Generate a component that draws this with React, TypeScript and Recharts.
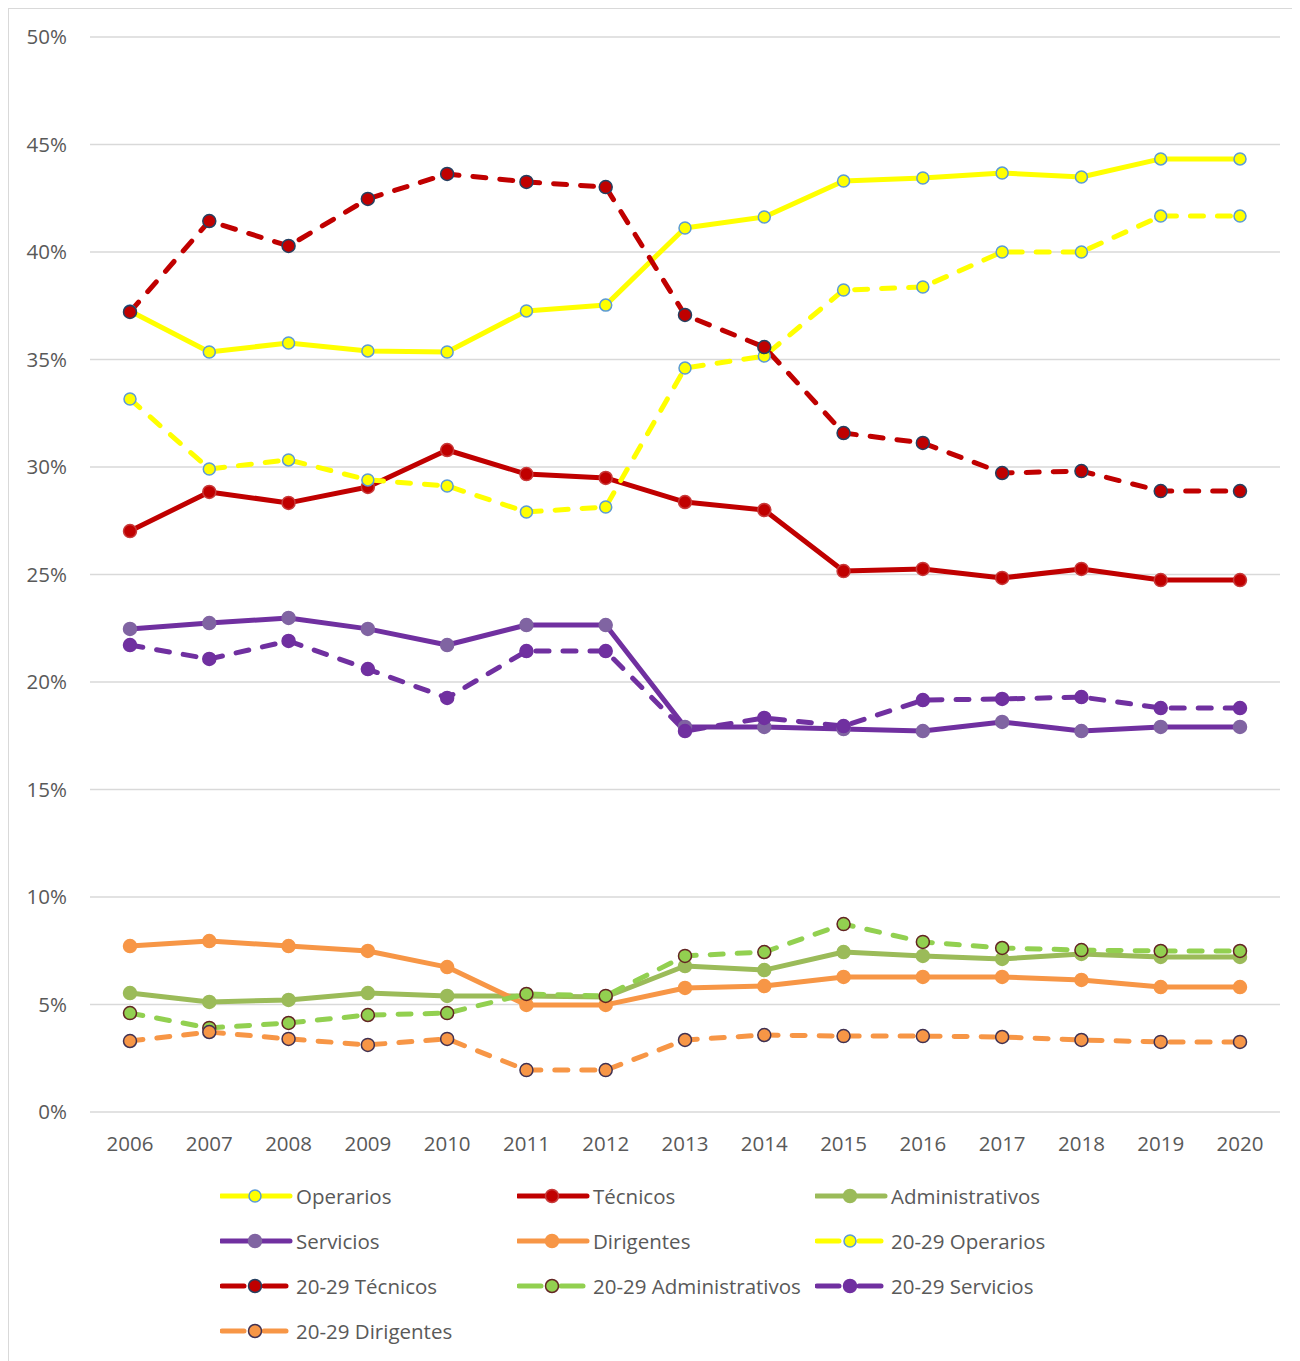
import React from 'react';
import { LineChart, Line, XAxis, YAxis, CartesianGrid } from 'recharts';

const years = ['2006', '2007', '2008', '2009', '2010', '2011', '2012', '2013', '2014', '2015', '2016', '2017', '2018', '2019', '2020'];

const operarios = [37.26, 35.35, 35.77, 35.4, 35.35, 37.26, 37.53, 41.12, 41.63, 43.3, 43.44, 43.67, 43.49, 44.33, 44.33];
const tecnicos = [27.02, 28.84, 28.33, 29.07, 30.79, 29.67, 29.49, 28.37, 28.0, 25.16, 25.26, 24.84, 25.26, 24.74, 24.74];
const administrativos = [5.53, 5.12, 5.21, 5.53, 5.4, 5.4, 5.35, 6.79, 6.6, 7.44, 7.26, 7.12, 7.35, 7.21, 7.21];
const servicios = [22.47, 22.74, 22.98, 22.47, 21.72, 22.65, 22.65, 17.91, 17.91, 17.81, 17.72, 18.14, 17.72, 17.91, 17.91];
const dirigentes = [7.72, 7.95, 7.72, 7.49, 6.74, 4.98, 4.98, 5.77, 5.86, 6.28, 6.28, 6.28, 6.14, 5.81, 5.81];
const operarios2029 = [33.16, 29.91, 30.33, 29.4, 29.12, 27.91, 28.14, 34.6, 35.16, 38.23, 38.37, 40.0, 40.0, 41.67, 41.67];
const tecnicos2029 = [37.21, 41.44, 40.28, 42.47, 43.63, 43.26, 43.02, 37.07, 35.58, 31.58, 31.12, 29.72, 29.81, 28.88, 28.88];
const administrativos2029 = [4.6, 3.91, 4.14, 4.51, 4.6, 5.49, 5.4, 7.26, 7.44, 8.74, 7.91, 7.63, 7.53, 7.49, 7.49];
const servicios2029 = [21.72, 21.07, 21.91, 20.6, 19.26, 21.44, 21.44, 17.72, 18.33, 17.95, 19.16, 19.21, 19.3, 18.79, 18.79];
const dirigentes2029 = [3.3, 3.72, 3.4, 3.12, 3.4, 1.95, 1.95, 3.35, 3.58, 3.53, 3.53, 3.49, 3.35, 3.26, 3.26];

const yTicks = [0, 5, 10, 15, 20, 25, 30, 35, 40, 45, 50];

const series = [
  { key: 'Operarios', values: operarios, color: '#FFFF00', fill: '#FFFF00', stroke: '#5B9BD5', dashed: false, r: 6 },
  { key: 'Técnicos', values: tecnicos, color: '#C00000', fill: '#C00000', stroke: '#C83A3A', dashed: false, r: 6.5 },
  { key: 'Administrativos', values: administrativos, color: '#9BBB59', fill: '#9BBB59', stroke: '#9BBB59', dashed: false, r: 6.5 },
  { key: 'Servicios', values: servicios, color: '#7030A0', fill: '#8064A2', stroke: '#8064A2', dashed: false, r: 6.5 },
  { key: 'Dirigentes', values: dirigentes, color: '#F79646', fill: '#F79646', stroke: '#F79646', dashed: false, r: 6.5 },
  { key: '20-29 Operarios', values: operarios2029, color: '#FFFF00', fill: '#FFFF00', stroke: '#5B9BD5', dashed: true, r: 6 },
  { key: '20-29 Técnicos', values: tecnicos2029, color: '#C00000', fill: '#C00000', stroke: '#254061', dashed: true, r: 6.5 },
  { key: '20-29 Administrativos', values: administrativos2029, color: '#92D050', fill: '#92D050', stroke: '#632523', dashed: true, r: 6.5 },
  { key: '20-29 Servicios', values: servicios2029, color: '#7030A0', fill: '#7030A0', stroke: '#7030A0', dashed: true, r: 6.5 },
  { key: '20-29 Dirigentes', values: dirigentes2029, color: '#F79646', fill: '#F79646', stroke: '#403152', dashed: true, r: 6.5 },
];

const data = years.map((year, i) => {
  const row: Record<string, string | number> = { year };
  series.forEach(s => { row[s.key] = s.values[i]; });
  return row;
});

const FONT = '"Open Sans", sans-serif';
const TEXT = '#595959';

const LegendItem = ({ s }: { s: typeof series[number] }) => (
  <div style={{ display: 'flex', alignItems: 'center', height: 30 }}>
    <svg width={76} height={20} style={{ flex: 'none' }}>
      {s.dashed ? (
        <>
          <line x1={2} y1={10} x2={24} y2={10} stroke={s.color} strokeWidth={5} strokeLinecap="round" />
          <line x1={44} y1={10} x2={66} y2={10} stroke={s.color} strokeWidth={5} strokeLinecap="round" />
        </>
      ) : (
        <line x1={1} y1={10} x2={70} y2={10} stroke={s.color} strokeWidth={5} strokeLinecap="round" />
      )}
      <circle cx={35} cy={10} r={s.r} fill={s.fill} stroke={s.stroke} strokeWidth={1.5} />
    </svg>
    <span style={{ fontFamily: FONT, fontSize: 20.5, color: TEXT, whiteSpace: 'nowrap' }}>{s.key}</span>
  </div>
);

const legendCols = [211, 508, 806];
const legendRows = [1172, 1217, 1262, 1307];

export default function App() {
  return (
    <div style={{ position: 'relative', width: 1292, height: 1353, borderLeft: '1px solid #d9d9d9', borderTop: '1px solid #d9d9d9', background: '#fff' }}>
      <LineChart width={1290} height={1160} data={data} margin={{ top: 28, right: 19, bottom: 7, left: 0 }}>
        <CartesianGrid horizontal vertical={false} stroke="#d9d9d9" strokeWidth={1.5} />
        <XAxis
          dataKey="year"
          axisLine={false}
          tickLine={false}
          tickSize={0}
          tickMargin={24}
          height={50}
          padding={{ left: 40, right: 40 }}
          tick={{ fontFamily: FONT, fontSize: 20.5, fill: TEXT }}
          interval={0}
        />
        <YAxis
          domain={[0, 50]}
          ticks={yTicks}
          tickFormatter={v => `${v}%`}
          axisLine={false}
          tickLine={false}
          tickSize={0}
          tickMargin={23}
          width={81}
          tick={{ fontFamily: FONT, fontSize: 20.5, fill: TEXT }}
          interval={0}
        />
        {series.map(s => (
          <Line
            key={s.key}
            dataKey={s.key}
            type="linear"
            stroke={s.color}
            strokeWidth={5}
            strokeDasharray={s.dashed ? '13 14' : undefined}
            strokeLinecap="round"
            strokeLinejoin="round"
            dot={{ r: s.r, fill: s.fill, stroke: s.stroke, strokeWidth: 1.5, strokeDasharray: '' }}
            activeDot={false}
            isAnimationActive={false}
          />
        ))}
      </LineChart>
      {series.map((s, i) => (
        <div
          key={s.key}
          style={{ position: 'absolute', left: legendCols[i % 3], top: legendRows[Math.floor(i / 3)] }}
        >
          <LegendItem s={s} />
        </div>
      ))}
    </div>
  );
}
